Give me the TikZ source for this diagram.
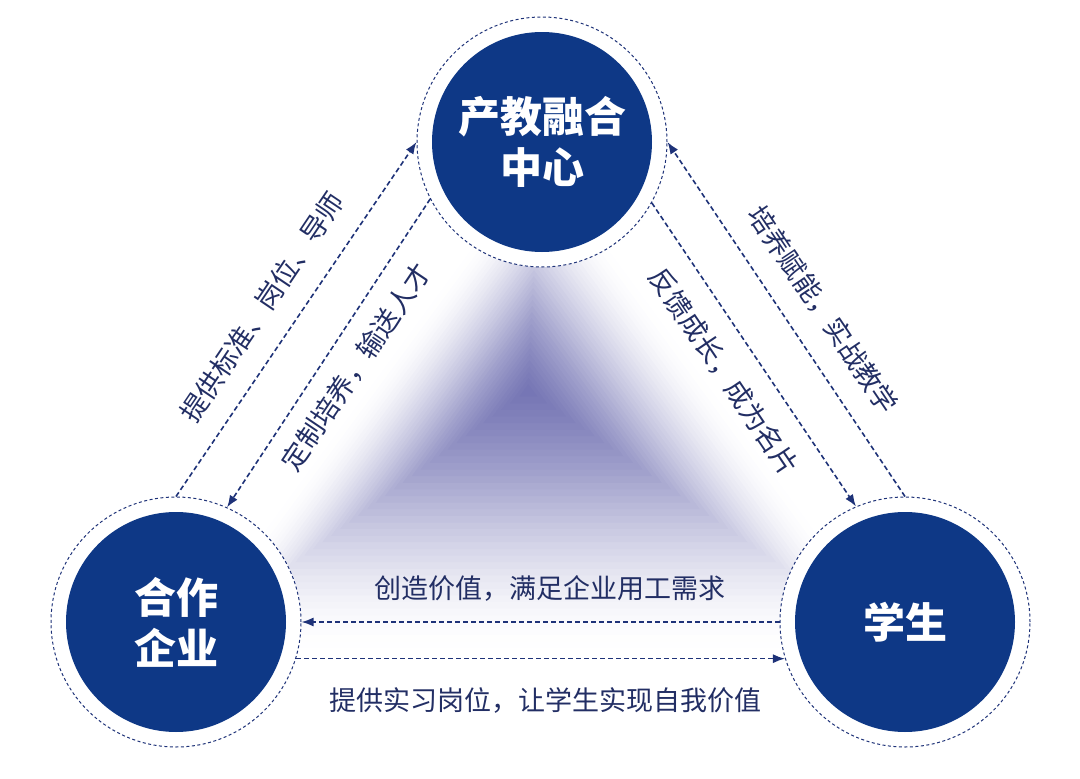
\documentclass[tikz,border=0pt]{standalone}
\usepackage{fontspec}
\setmainfont{Noto Sans CJK SC}
\usepackage{tikz}
\usetikzlibrary{arrows.meta,calc}
\definecolor{hubblue}{RGB}{14,56,134}
\definecolor{linkblue}{RGB}{30,50,120}
\definecolor{labelblue}{RGB}{34,46,100}
\definecolor{hazeblue}{RGB}{84,84,162}
\tikzset{
  >={Latex[length=12pt,width=9pt]},
  link/.style={->, dash pattern=on 5pt off 3pt, line width=1.6pt, draw=linkblue},
  ring/.style={
    circle,
    draw=linkblue,
    fill=white,
    dash pattern=on 3pt off 2.5pt,
    line width=1pt,
    minimum size=250pt,
    inner sep=0pt
  },
  disc/.style={
    circle,
    fill=hubblue,
    minimum size=220pt,
    inner sep=0pt,
    text=white,
    align=center,
    font=\fontsize{42}{51}\selectfont\bfseries
  },
  linklabel/.style={text=labelblue, inner sep=0pt, font=\fontsize{27}{30}\selectfont}
}
\begin{document}
\begin{tikzpicture}[x=1pt,y=-1pt]
  \useasboundingbox (0,0) rectangle (1080,779);
  % soft triangle behind the discs
  \foreach \s in {1.000,0.975,...,0.020}{
    \pgfmathsetmacro\haze{0.08*(1-\s)}
    \fill[hazeblue,fill opacity=\haze] ($(528,390)!\s!(540,150)$) -- ($(528,390)!\s!(170,655)$) -- ($(528,390)!\s!(910,655)$) -- cycle;
  }
  \node[ring] (hubring) at (542,142) {};
  \node[ring] (firmring) at (176,622) {};
  \node[ring] (studring) at (905,622) {};
  \node[disc] (hub) at (hubring) {产教融合\\中心};
  \node[disc] (firm) at (firmring) {合作\\企业};
  \node[disc] (stud) at (studring) {学生};
  % flows
  \draw[link] (firmring.90) -- (hubring.180);
  \draw[link] (hubring.207) -- (firmring.66);
  \draw[link] (studring.90) -- (hubring.0);
  \draw[link] (hubring.-29) -- (studring.113);
  \draw[link] (studring.180) -- (firmring.0);
  \draw[link] (firmring.-17.7) -- (studring.197.7);
  \node[linklabel,rotate=56] (provide) at (262,307) {提供标准、岗位、导师};
  \node[linklabel,rotate=56] (train) at (356,367) {定制培养，输送人才};
  \node[linklabel,rotate=-56] (empower) at (823,310) {培养赋能，实战教学};
  \node[linklabel,rotate=-56] (feedback) at (724,372) {反馈成长，成为名片};
  \node[linklabel] (value) at (550,588) {创造价值，满足企业用工需求};
  \node[linklabel] (intern) at (545,700) {提供实习岗位，让学生实现自我价值};
\end{tikzpicture}
\end{document}
